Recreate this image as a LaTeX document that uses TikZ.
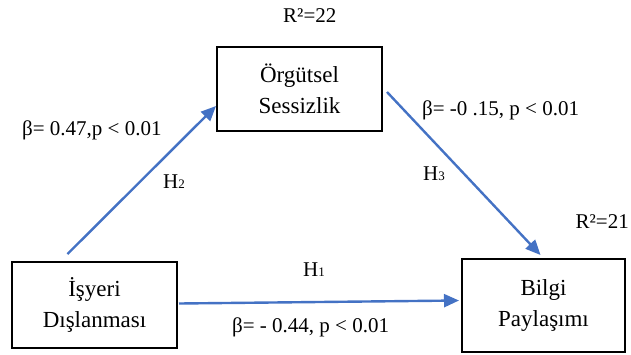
\documentclass[tikz,border=0pt]{standalone}
\usepackage{fontspec}
\setmainfont{Liberation Serif}
\usetikzlibrary{arrows.meta}
\definecolor{arrblue}{HTML}{4472C4}
\tikzset{
  box/.style={draw=black, line width=2pt, minimum width=#1, align=center, inner sep=0pt, font=\fontsize{23}{31}\selectfont},
  arr/.style={draw=arrblue, line width=2.4pt, -{Triangle[length=15pt,width=13pt]}},
  lbl/.style={anchor=base west, inner sep=0pt, font=\fontsize{21}{24}\selectfont},
}
\newcommand{\smalldig}[1]{{\fontsize{13}{13}\selectfont #1}}
\begin{document}
\begin{tikzpicture}[x=1pt,y=-1pt]
\useasboundingbox (0,0) rectangle (631,354);
\node[box=165pt, minimum height=84pt] (org) at (299.5,89) {Örgütsel\\Sessizlik};
\node[box=165pt, minimum height=86pt] (isy) at (94.5,305) {İşyeri\\Dışlanması};
\node[box=163pt, minimum height=93pt] (bil) at (543.5,305.5) {Bilgi\\Paylaşımı};
\draw[arr] ([xshift=-27pt,yshift=7pt]isy.north) -- ([yshift=-17pt]org.west);
\draw[arr] ([xshift=4pt,yshift=-3pt]org.east) -- ([xshift=-3pt,yshift=3pt]bil.north);
\draw[arr] ([xshift=1pt,yshift=1.5pt]isy.east) -- ([xshift=-2pt,yshift=5pt]bil.west);
\node[lbl] (r22) at (283,22) {R²=22};
\node[lbl] (b2) at (22,135) {β= 0.47,p < 0.01};
\node[lbl] (h2) at (163,188) {H\smalldig{2}};
\node[lbl] (b3) at (422,115) {β= -0 .15, p < 0.01};
\node[lbl] (h3) at (423,180) {H\smalldig{3}};
\node[lbl, anchor=base east] (r21) at (629,228) {R²=21};
\node[lbl] (h1) at (303,276) {H\smalldig{1}};
\node[lbl] (b1) at (232,332) {β= - 0.44, p < 0.01};
\end{tikzpicture}
\end{document}
